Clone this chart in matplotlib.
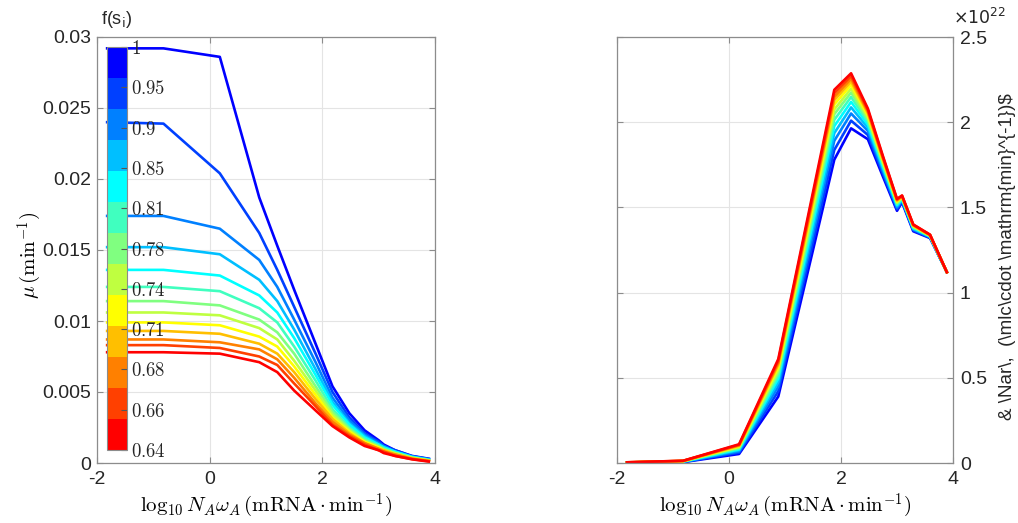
import numpy as np
import matplotlib
matplotlib.use('Agg')
import matplotlib.pyplot as plt
from matplotlib.colors import ListedColormap, Normalize
from matplotlib.cm import ScalarMappable
from matplotlib.ticker import FuncFormatter

plt.rcParams['font.family'] = ['Liberation Sans', 'DejaVu Sans']
plt.rcParams['mathtext.fontset'] = 'cm'
plt.rcParams['axes.unicode_minus'] = False

# ---------------- data ----------------
x_log = [-1.82, -0.82, 0.18, 0.88, 1.2, 1.5, 1.88, 2.18, 2.48, 2.75, 3.0, 3.09, 3.29, 3.59, 3.89]

# growth rate mu (min^-1), one series per f(s_i) level (top/blue -> bottom/red)
mu_01 = [0.0292, 0.0292, 0.0286, 0.0187, 0.0153, 0.0122, 0.0084, 0.0054, 0.0035, 0.0023, 0.0016, 0.0013, 0.0009, 0.00050, 0.00030]
mu_02 = [0.0240, 0.0239, 0.0204, 0.0162, 0.0136, 0.0110, 0.0077, 0.0050, 0.0032, 0.0021, 0.0015, 0.0012, 0.0009, 0.00048, 0.00028]
mu_03 = [0.0174, 0.0174, 0.0165, 0.0143, 0.0124, 0.0101, 0.0071, 0.0046, 0.0030, 0.0020, 0.0014, 0.0012, 0.0008, 0.00046, 0.00026]
mu_04 = [0.0152, 0.0152, 0.0147, 0.0129, 0.0114, 0.0094, 0.0066, 0.0043, 0.0028, 0.0019, 0.0013, 0.0011, 0.0008, 0.00044, 0.00024]
mu_05 = [0.0136, 0.0136, 0.0132, 0.0118, 0.0106, 0.0088, 0.0062, 0.0041, 0.0027, 0.0018, 0.0013, 0.0011, 0.0008, 0.00042, 0.00022]
mu_06 = [0.0124, 0.0124, 0.0121, 0.0109, 0.0099, 0.0082, 0.0058, 0.0038, 0.0025, 0.0017, 0.0012, 0.0010, 0.0007, 0.00040, 0.00020]
mu_07 = [0.0114, 0.0114, 0.0111, 0.0101, 0.0092, 0.0077, 0.0054, 0.0036, 0.0024, 0.0016, 0.0012, 0.0010, 0.0007, 0.00038, 0.00019]
mu_08 = [0.0106, 0.0106, 0.0104, 0.0095, 0.0087, 0.0072, 0.0051, 0.0034, 0.0023, 0.0015, 0.0011, 0.0009, 0.0007, 0.00036, 0.00018]
mu_09 = [0.0099, 0.0099, 0.0097, 0.0089, 0.0082, 0.0068, 0.0048, 0.0032, 0.0022, 0.0015, 0.0011, 0.0009, 0.0006, 0.00034, 0.00017]
mu_10 = [0.0093, 0.0093, 0.0091, 0.0084, 0.0077, 0.0064, 0.0045, 0.0031, 0.0021, 0.0014, 0.0010, 0.0009, 0.0006, 0.00032, 0.00016]
mu_11 = [0.0087, 0.0087, 0.0085, 0.0080, 0.0073, 0.0060, 0.0042, 0.0029, 0.0020, 0.0014, 0.0010, 0.0008, 0.0006, 0.00030, 0.00014]
mu_12 = [0.0083, 0.0083, 0.0081, 0.0075, 0.0069, 0.0056, 0.0040, 0.0027, 0.0019, 0.0013, 0.0009, 0.0008, 0.0005, 0.00028, 0.00012]
mu_13 = [0.0078, 0.0078, 0.0077, 0.0071, 0.0064, 0.0051, 0.0037, 0.0026, 0.0018, 0.0012, 0.0009, 0.0007, 0.0005, 0.00026, 0.00010]

# right panel, values in units of 1e22
rate_01 = [0.000, 0.005, 0.053, 0.390, 0.835, 1.250, 1.780, 1.964, 1.900, 1.680, 1.480, 1.530, 1.360, 1.320, 1.120]
rate_02 = [0.001, 0.006, 0.061, 0.421, 0.874, 1.298, 1.837, 2.009, 1.925, 1.697, 1.490, 1.536, 1.366, 1.323, 1.120]
rate_03 = [0.001, 0.007, 0.068, 0.449, 0.911, 1.342, 1.891, 2.051, 1.949, 1.712, 1.499, 1.541, 1.371, 1.325, 1.120]
rate_04 = [0.002, 0.008, 0.075, 0.474, 0.942, 1.379, 1.936, 2.087, 1.968, 1.726, 1.507, 1.545, 1.375, 1.328, 1.120]
rate_05 = [0.002, 0.009, 0.080, 0.496, 0.970, 1.413, 1.977, 2.119, 1.986, 1.738, 1.514, 1.549, 1.379, 1.330, 1.120]
rate_06 = [0.002, 0.010, 0.085, 0.515, 0.995, 1.444, 2.014, 2.148, 2.003, 1.748, 1.520, 1.553, 1.383, 1.331, 1.120]
rate_07 = [0.003, 0.010, 0.090, 0.533, 1.018, 1.471, 2.047, 2.174, 2.017, 1.758, 1.526, 1.556, 1.386, 1.333, 1.120]
rate_08 = [0.003, 0.011, 0.094, 0.548, 1.037, 1.495, 2.075, 2.197, 2.030, 1.766, 1.530, 1.559, 1.389, 1.334, 1.120]
rate_09 = [0.003, 0.011, 0.098, 0.564, 1.057, 1.519, 2.104, 2.219, 2.042, 1.775, 1.535, 1.562, 1.392, 1.336, 1.120]
rate_10 = [0.003, 0.012, 0.101, 0.577, 1.074, 1.539, 2.129, 2.239, 2.053, 1.782, 1.540, 1.564, 1.394, 1.337, 1.120]
rate_11 = [0.004, 0.012, 0.104, 0.588, 1.088, 1.556, 2.149, 2.255, 2.062, 1.788, 1.543, 1.566, 1.396, 1.338, 1.120]
rate_12 = [0.004, 0.013, 0.107, 0.599, 1.102, 1.573, 2.170, 2.271, 2.071, 1.794, 1.547, 1.568, 1.398, 1.339, 1.120]
rate_13 = [0.004, 0.013, 0.110, 0.610, 1.116, 1.590, 2.190, 2.287, 2.080, 1.800, 1.550, 1.570, 1.400, 1.340, 1.120]

fs_labels = ['0.64', '0.66', '0.68', '0.71', '0.74', '0.78', '0.81', '0.85', '0.9', '0.95', '1']

line_colors = ['#0000ff', '#0040ff', '#0080ff', '#00bfff', '#00ffff', '#40ffbf', '#80ff80',
               '#bfff40', '#ffff00', '#ffbf00', '#ff8000', '#ff4000', '#ff0000']

mu_series = [mu_01, mu_02, mu_03, mu_04, mu_05, mu_06, mu_07, mu_08, mu_09, mu_10, mu_11, mu_12, mu_13]
rate_series = [rate_01, rate_02, rate_03, rate_04, rate_05, rate_06, rate_07, rate_08, rate_09,
               rate_10, rate_11, rate_12, rate_13]

# ---------------- figure ----------------
W, H = 1018, 523
fig = plt.figure(figsize=(W / 100, H / 100), dpi=100)

def box(l, t, r, b):
    return [l / W, (H - b) / H, (r - l) / W, (b - t) / H]

ax1 = fig.add_axes(box(97, 37, 435, 463))
ax2 = fig.add_axes(box(617, 37, 953, 463))

spine_c = '#8c8c8c'
for ax in (ax1, ax2):
    ax.set_xlim(-2, 4)
    ax.set_xticks([-2, 0, 2, 4])
    ax.grid(True, color='#e4e4e4', lw=0.8)
    ax.set_axisbelow(True)
    for s in ax.spines.values():
        s.set_color(spine_c)
        s.set_linewidth(0.9)
    ax.tick_params(direction='in', length=4, width=0.8, color=spine_c,
                   labelsize=14, labelcolor='#262626', top=True, right=True)
    ax.tick_params(axis='x', pad=6)

for ys, c in zip(mu_series, line_colors):
    ax1.plot(x_log, ys, color=c, lw=1.9)
ax1.set_ylim(0, 0.03)
ax1.set_yticks([0, 0.005, 0.01, 0.015, 0.02, 0.025, 0.03])
ax1.yaxis.set_major_formatter(FuncFormatter(lambda v, p: '%g' % round(v, 4)))
ax1.tick_params(axis='y', pad=4)

for ys, c in zip(rate_series, line_colors):
    ax2.plot(x_log, np.array(ys) * 1e22, color=c, lw=1.9)
ax2.set_ylim(0, 2.5e22)
ax2.set_yticks(np.array([0, 0.5, 1, 1.5, 2, 2.5]) * 1e22)
ax2.yaxis.set_major_formatter(FuncFormatter(lambda v, p: '%g' % round(v / 1e22, 3)))
ax2.tick_params(axis='y', left=True, right=True, labelleft=False, labelright=True, pad=5)

# colorbar inside left panel
cax = fig.add_axes(box(107, 47, 127, 450))
cmap = ListedColormap(line_colors[::-1])
cb = fig.colorbar(ScalarMappable(norm=Normalize(0, 1), cmap=cmap), cax=cax)
cb.set_ticks(np.linspace(0, 1, len(fs_labels)))
cb.set_ticklabels(['$%s$' % s for s in fs_labels])
cax.tick_params(direction='in', length=4, width=0.8, color='#555555', labelsize=13.5,
                labelcolor='#262626', pad=3)
cb.outline.set_edgecolor(spine_c)
cb.outline.set_linewidth(0.8)

fig.text(117 / W, 1 - 19 / H, r'f(s$_{\rm i}$)', ha='center', va='center', fontsize=13,
         math_fontfamily='dejavusans', color='#262626')

# axis labels
xlab = r'$\log_{10} N_A\omega_A\,(\mathrm{mRNA}\cdot\mathrm{min}^{-1})$'
fig.text(266 / W, 1 - 506 / H, xlab, ha='center', va='center', fontsize=15)
fig.text(785 / W, 1 - 506 / H, xlab, ha='center', va='center', fontsize=15)
fig.text(30 / W, 1 - 255 / H, r'$\mu\,(\mathrm{min}^{-1})$', ha='center', va='center',
         rotation=90, fontsize=15)
fig.text(1008 / W, 1 - 257 / H, r'& \Nar\,  (\mlc\cdot \mathrm{min}^{-1})\$', ha='center',
         va='center', rotation=90, fontsize=13.5, color='#262626')
fig.text(953 / W, 1 - 24 / H, r'$\times10^{22}$', ha='left', va='baseline', fontsize=12.5,
         math_fontfamily='dejavusans', color='#262626')

fig.savefig('out.png', dpi=100)
